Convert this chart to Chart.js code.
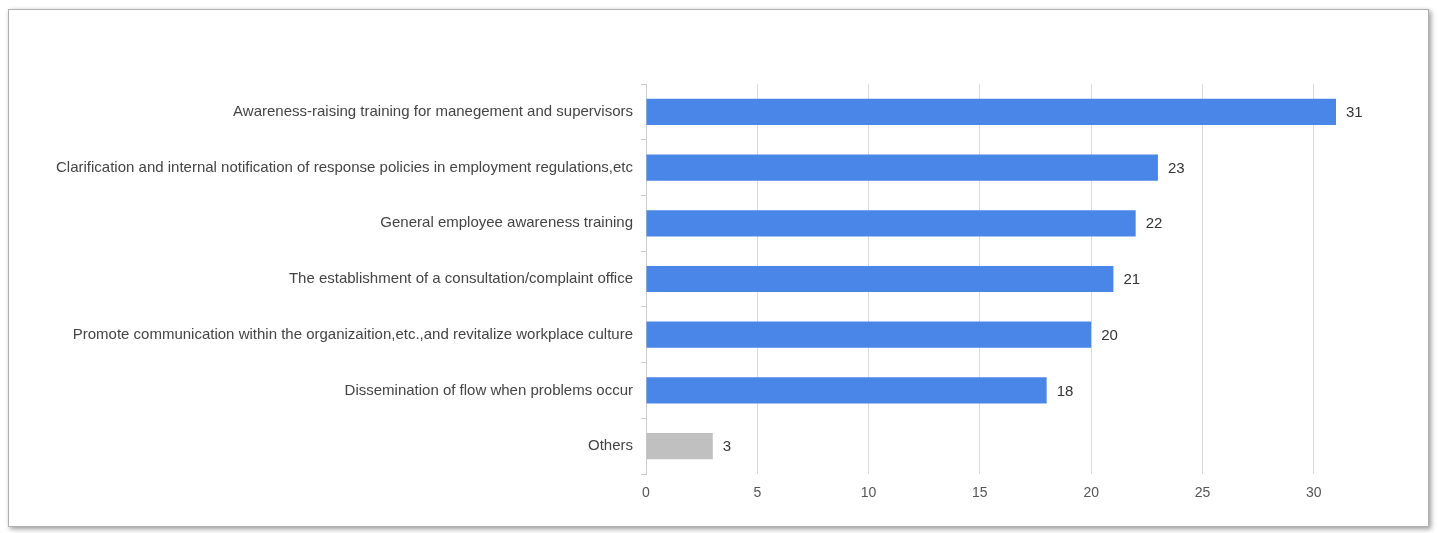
<!DOCTYPE html>
<html>
<head>
<meta charset="utf-8">
<title>Measures taken</title>
<script src="https://cdn.jsdelivr.net/npm/chart.js@4.4.1/dist/chart.umd.min.js"></script>
<style>
    html, body { margin: 0; padding: 0; background: #fff; }
    body { width: 1438px; height: 533px; position: relative; overflow: hidden; }
    .frame {
        position: absolute; left: 8px; top: 9px; width: 1419px; height: 516px;
        border: 1px solid #b0b0b0;
        box-shadow: 2px 2px 5px rgba(0, 0, 0, 0.4);
        background: #fff;
    }
    .chart-box { position: absolute; left: 0; top: 0; width: 1438px; height: 533px; }
</style>
</head>
<body>
<div class="frame"></div>
<div class="chart-box"><canvas id="measuresChart"></canvas></div>
<script>
// Chart data
const categories = [
    'Awareness-raising training for manegement and supervisors',
    'Clarification and internal notification of response policies in employment regulations,etc',
    'General employee awareness training',
    'The establishment of a consultation/complaint office',
    'Promote communication within the organizaition,etc.,and revitalize workplace culture',
    'Dissemination of flow when problems occur',
    'Others'
];
const counts = [31, 23, 22, 21, 20, 18, 3];
const barColors = ['#4a86e8', '#4a86e8', '#4a86e8', '#4a86e8', '#4a86e8', '#4a86e8', '#c0c0c0'];
const xTicks = [0, 5, 10, 15, 20, 25, 30];

const FONT = '"Liberation Sans", Arial, sans-serif';

// Draws the count just right of each bar
const valueLabels = {
    id: 'valueLabels',
    afterDatasetsDraw(chart) {
        const ctx = chart.ctx;
        const meta = chart.getDatasetMeta(0);
        ctx.save();
        ctx.font = '15px ' + FONT;
        ctx.fillStyle = '#333';
        ctx.textAlign = 'left';
        ctx.textBaseline = 'middle';
        meta.data.forEach((bar, i) => {
            ctx.fillText(String(counts[i]), bar.x + 10, bar.y + 1);
        });
        ctx.restore();
    }
};

new Chart(document.getElementById('measuresChart').getContext('2d'), {
    type: 'bar',
    data: {
        labels: categories,
        datasets: [{
            data: counts,
            backgroundColor: barColors,
            borderWidth: 0,
            barPercentage: 0.94,
            categoryPercentage: 0.5
        }]
    },
    options: {
        indexAxis: 'y',
        responsive: true,
        maintainAspectRatio: false,
        animation: false,
        layout: { padding: { top: 84, right: 102, bottom: 0, left: 0 } },
        scales: {
            x: {
                min: 0,
                max: 31,
                afterBuildTicks: function(scale) {
                    scale.ticks = xTicks.map(v => ({ value: v }));
                },
                afterFit: function(scale) { scale.height = 59; },
                grid: { color: '#d9d9d9', drawTicks: false },
                border: { display: false },
                ticks: {
                    padding: 11,
                    color: '#555',
                    font: { family: FONT, size: 14 }
                }
            },
            y: {
                afterFit: function(scale) { scale.width = 646; },
                grid: {
                    drawOnChartArea: false,
                    drawTicks: true,
                    tickLength: 5,
                    color: '#cccccc'
                },
                border: { display: true, color: '#cccccc' },
                ticks: {
                    padding: 8,
                    color: '#444',
                    font: { family: FONT, size: 15 }
                }
            }
        },
        plugins: {
            legend: { display: false },
            tooltip: { enabled: false }
        }
    },
    plugins: [valueLabels]
});
</script>
</body>
</html>
